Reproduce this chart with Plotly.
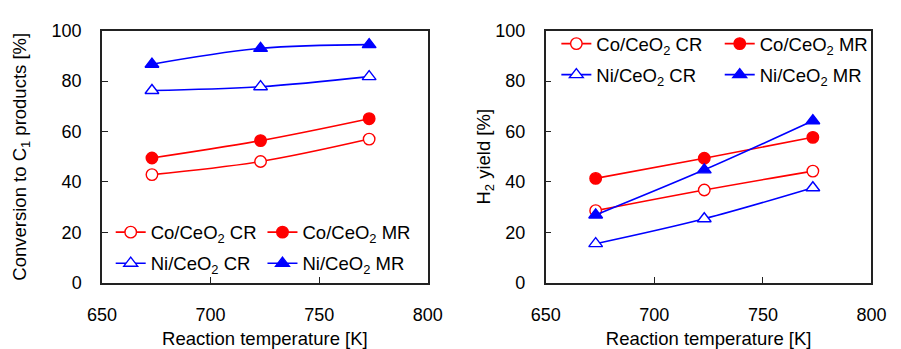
import plotly.graph_objects as go

temps = [673, 723, 773]

# Left panel: conversion to C1 products [%]
conv_co_cr = [42.9, 48.1, 57.0]
conv_co_mr = [49.5, 56.4, 65.1]
conv_ni_cr = [76.3, 77.8, 81.8]
conv_ni_mr = [86.7, 93.0, 94.5]

# Right panel: H2 yield [%]
h2_co_cr = [28.6, 36.8, 44.3]
h2_co_mr = [41.4, 49.4, 57.7]
h2_ni_cr = [15.5, 25.4, 37.7]
h2_ni_mr = [26.9, 44.8, 64.3]

names = ["Co/CeO<sub>2</sub> CR", "Co/CeO<sub>2</sub> MR",
         "Ni/CeO<sub>2</sub> CR", "Ni/CeO<sub>2</sub> MR"]
x_ticks = [650, 700, 750, 800]
y_ticks = [0, 20, 40, 60, 80, 100]

RED = "#ff0000"
BLUE = "#0000ff"
FONT = "Liberation Sans, Arial, sans-serif"

fig = go.Figure()

def add(xa, ya, y, name, color, symbol, filled, legend, group):
    fig.add_trace(go.Scatter(
        x=temps, y=y, name=name, mode="lines+markers",
        line=dict(color=color, width=1.6, shape="spline"),
        marker=dict(symbol=symbol, size=11.5 if symbol == "circle" else 12,
                    color=color if filled else "white",
                    line=dict(color=color, width=1.4)),
        xaxis=xa, yaxis=ya, legend=legend, legendgroup=group, showlegend=True))

# left
add("x", "y", conv_co_cr, names[0], RED, "circle", False, "legend", "a1")
add("x", "y", conv_ni_cr, names[2], BLUE, "triangle-up", False, "legend", "a2")
add("x", "y", conv_co_mr, names[1], RED, "circle", True, "legend2", "a3")
add("x", "y", conv_ni_mr, names[3], BLUE, "triangle-up", True, "legend2", "a4")
# right
add("x2", "y2", h2_co_cr, names[0], RED, "circle", False, "legend3", "b1")
add("x2", "y2", h2_ni_cr, names[2], BLUE, "triangle-up", False, "legend3", "b2")
add("x2", "y2", h2_co_mr, names[1], RED, "circle", True, "legend4", "b3")
add("x2", "y2", h2_ni_mr, names[3], BLUE, "triangle-up", True, "legend4", "b4")

axis_common = dict(showline=True, linecolor="#222222", linewidth=1.5, mirror=True,
                   ticks="inside", ticklen=6, tickwidth=1.2, tickcolor="#222222",
                   showgrid=False, zeroline=False,
                   tickfont=dict(family=FONT, size=18, color="black"))

def xaxis(domain, anchor):
    return dict(axis_common, domain=domain, anchor=anchor, range=[650, 800],
                tickvals=x_ticks, ticklabelstandoff=15,
                title=dict(text="Reaction temperature [K]",
                           font=dict(family=FONT, size=18.5, color="black"), standoff=9))

def yaxis(domain, anchor, title, standoff):
    return dict(axis_common, domain=domain, anchor=anchor, range=[0, 100],
                tickvals=y_ticks, ticklabelstandoff=15,
                title=dict(text=title, font=dict(family=FONT, size=18.5, color="black"),
                           standoff=standoff))

ydom = [1 - 289.3 / 349, 1 - 22 / 349]
legend_common = dict(font=dict(family=FONT, size=18.5, color="black"),
                     bgcolor="rgba(0,0,0,0)", borderwidth=0, xref="paper", yref="paper",
                     xanchor="left", yanchor="top", tracegroupgap=4, itemwidth=30)

fig.update_layout(
    width=901, height=349,
    margin=dict(l=0, r=0, t=0, b=0),
    paper_bgcolor="white", plot_bgcolor="white",
    font=dict(family=FONT, color="black"),
    xaxis=xaxis([90 / 901, 427 / 901], "y"),
    yaxis=yaxis(ydom, "x", "Conversion to C<sub>1</sub> products [%]", 20),
    xaxis2=xaxis([549 / 901, 886 / 901], "y2"),
    yaxis2=yaxis(ydom, "x2", "H<sub>2</sub> yield [%]", 0),
    legend=dict(legend_common, x=99 / 901, y=1 - 216 / 349),
    legend2=dict(legend_common, x=256 / 901, y=1 - 216 / 349),
    legend3=dict(legend_common, x=560 / 901, y=1 - 16 / 349),
    legend4=dict(legend_common, x=729 / 901, y=1 - 16 / 349),
)

fig.write_html("out.html")
